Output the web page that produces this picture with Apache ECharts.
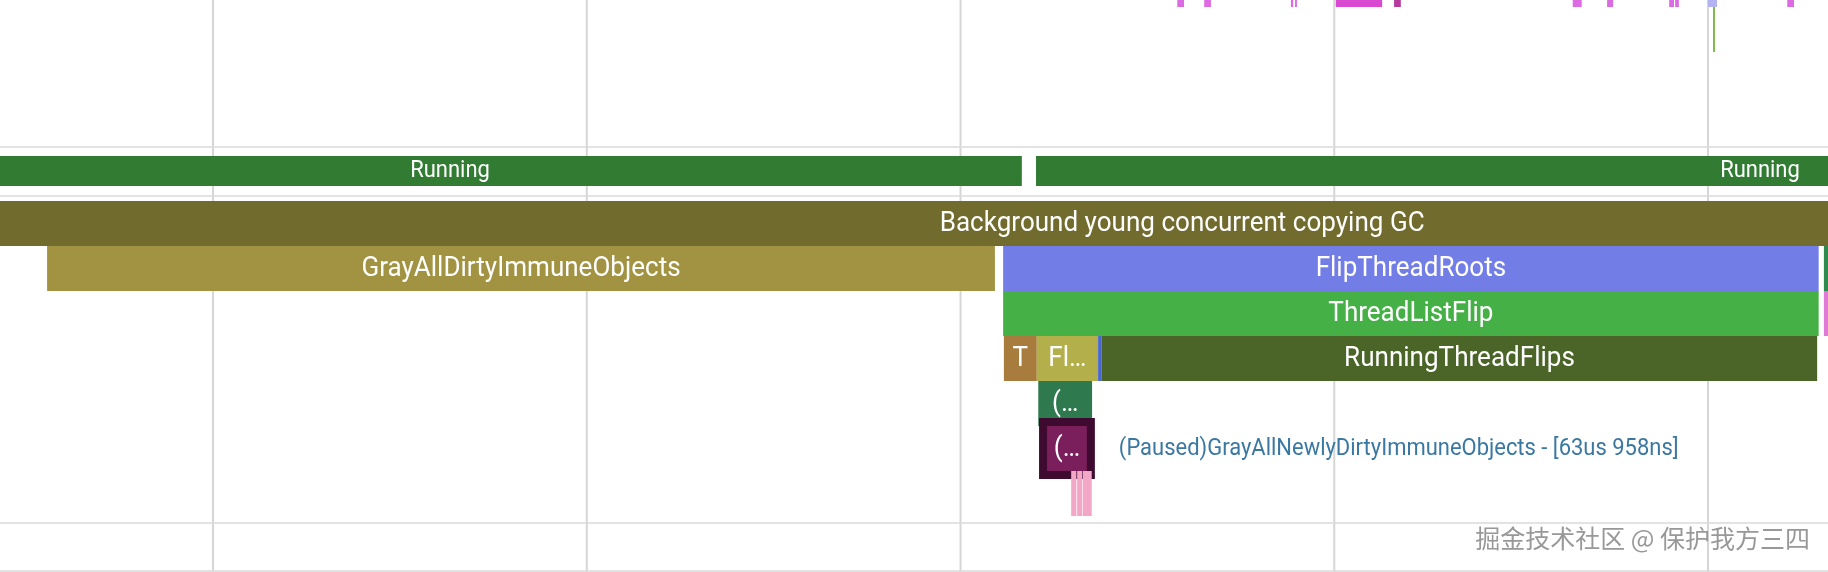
<!DOCTYPE html>
<html>
<head>
<meta charset="utf-8">
<script src="https://cdn.jsdelivr.net/npm/echarts@6/dist/echarts.min.js"></script>
<style>
html,body{margin:0;padding:0;background:#ffffff;}
#chart{width:1828px;height:572px;}
</style>
</head>
<body>
<div id="chart"></div>
<script>
// ---------- DATA (time in microseconds) ----------
const axisMin = 215;
const axisMax = 2660.5;
// time grid ticks (every 500 us)
const gridTicks = [500, 1000, 1500, 2000, 2500];

// partially visible track at the top (tiny slices)
const topStart = [1790, 1826, 1942, 1947.5, 2002, 2080, 2319, 2365, 2448, 2456, 2500, 2606];
const topEnd   = [1799, 1835, 1945, 1950,   2064, 2089, 2331, 2373, 2454.5, 2461, 2512, 2615];
// instant marker in the top track
const markerTime = [2508];

// thread state track
const stateNames = ['Running', 'Running'];
const stateStart = [52, 1601];
const stateEnd   = [1582, 3538];

// slice track
const sliceNames  = [
  'Background young concurrent copying GC',
  'GrayAllDirtyImmuneObjects',
  'FlipThreadRoots',
  '',
  'ThreadListFlip',
  '',
  'T',
  'Fl…',
  '',
  'RunningThreadFlips',
  '(…',
  '(Paused)GrayAllNewlyDirtyImmuneObjects',
  '', '', ''
];
const sliceLabels = [
  'Background young concurrent copying GC',
  'GrayAllDirtyImmuneObjects',
  'FlipThreadRoots',
  '',
  'ThreadListFlip',
  '',
  'T',
  'Fl…',
  '',
  'RunningThreadFlips',
  '(…',
  '(…',
  '', '', ''
];
const sliceStart = [-180, 278, 1557, 2655, 1557, 2655, 1558, 1602, 1684, 1689, 1604, 1610.4,   1648, 1656,   1663.3];
const sliceEnd   = [3773, 1546, 2648, 2720, 2648, 2720, 1602, 1684, 1689, 2646, 1676, 1674.358, 1655, 1662.5, 1675.5];
const sliceDepth = [0,    1,    1,    1,    2,    2,    3,    3,    3,    3,    4,    5,        6,    6,      6];
const selectedSlice = 11;

// ---------- STYLES / LAYOUT ----------
const topColors = ['#dc6ae2','#dc6ae2','#dc6ae2','#dc6ae2','#d848d0','#b5399f','#dc6ae2','#dc6ae2','#dc6ae2','#dc6ae2','#b3b3f2','#dc6ae2'];
const sliceColors = ['#726b2e','#a19342','#737de6','#2f8a4e','#45b046','#e07ad6','#a87c3c','#b3af4b','#4a67d0','#4b6528','#2e7a4e','#7a1f5c','#f2a7c6','#f2a7c6','#f2a7c6'];
const stateColor = '#327b33';
const layout = {
  topTrackTop: 0, topTrackH: 7, markerTop: 7, markerBottom: 52,
  stateTop: 156, stateH: 30,
  sliceTop: 201, rowH: 45,
  separators: [147, 196, 523, 571]
};
// condensed look: larger font squeezed horizontally
const sliceFont = '28px Roboto', sliceSqueeze = 0.93;
const stateFont = '24px Roboto', stateSqueeze = 0.915;
const infoFont = '24px Roboto', infoSqueeze = 0.915;

function fmtDur(us) {
  const whole = Math.floor(us);
  const ns = Math.round((us - whole) * 1000);
  return whole + 'us ' + ns + 'ns';
}

function label(text, x, y, font, squeeze, fill, align) {
  return {type: 'text', x: x, y: y, scaleX: squeeze, scaleY: 1,
    style: {text: text, x: 0, y: 0, align: align || 'center', verticalAlign: 'middle', font: font, fill: fill}};
}

const chart = echarts.init(document.getElementById('chart'), null, {renderer: 'canvas'});

const option = {
  animation: false,
  backgroundColor: '#ffffff',
  grid: {left: 0, top: 0, right: 0, bottom: 0},
  xAxis: {
    type: 'value', min: axisMin, max: axisMax,
    axisLine: {show: false}, axisTick: {show: false}, axisLabel: {show: false},
    splitLine: {show: false}
  },
  yAxis: {
    type: 'value', min: 0, max: 572, inverse: true, show: false,
    splitLine: {show: false}
  },
  graphic: [{
    type: 'text', right: 18, top: 526, z: 100,
    style: {
      text: '掘金技术社区 @ 保护我方三四',
      font: '25px "Noto Sans CJK SC"',
      fill: '#989898',
      shadowColor: 'rgba(0,0,0,0.3)', shadowOffsetX: 1, shadowOffsetY: 1, shadowBlur: 1
    }
  }],
  series: [
    // time gridlines
    {
      type: 'custom', z: 1, silent: true,
      data: gridTicks.map(function (t) { return [t]; }),
      encode: {x: 0},
      renderItem: function (params, api) {
        const x = api.coord([api.value(0), 0])[0];
        const cs = params.coordSys;
        return {type: 'line', shape: {x1: x, y1: cs.y, x2: x, y2: cs.y + cs.height},
                style: {stroke: '#d6d6d6', lineWidth: 2}};
      }
    },
    // track separators
    {
      type: 'custom', z: 1, silent: true,
      data: layout.separators.map(function (y) { return [axisMin, y]; }),
      renderItem: function (params, api) {
        const y = api.coord([axisMin, api.value(1)])[1];
        const cs = params.coordSys;
        return {type: 'line', shape: {x1: cs.x, y1: y, x2: cs.x + cs.width, y2: y},
                style: {stroke: '#dadada', lineWidth: 1.5}};
      }
    },
    // top track slices
    {
      type: 'custom', z: 2, silent: true,
      data: topStart.map(function (s, i) { return [s, topEnd[i], i]; }),
      encode: {x: [0, 1]},
      renderItem: function (params, api) {
        const a = api.coord([api.value(0), layout.topTrackTop]);
        const b = api.coord([api.value(1), layout.topTrackTop + layout.topTrackH]);
        return {type: 'rect', shape: {x: a[0], y: a[1], width: b[0] - a[0], height: b[1] - a[1]},
                style: {fill: topColors[api.value(2)]}};
      }
    },
    // instant marker
    {
      type: 'custom', z: 2, silent: true,
      data: markerTime.map(function (t) { return [t]; }),
      encode: {x: 0},
      renderItem: function (params, api) {
        const a = api.coord([api.value(0), layout.markerTop]);
        const b = api.coord([api.value(0), layout.markerBottom]);
        return {type: 'line', shape: {x1: a[0], y1: a[1], x2: b[0], y2: b[1]},
                style: {stroke: '#7dbb4a', lineWidth: 2}};
      }
    },
    // thread state
    {
      type: 'custom', z: 3, silent: true,
      data: stateStart.map(function (s, i) { return [s, stateEnd[i], i]; }),
      encode: {x: [0, 1]},
      renderItem: function (params, api) {
        const i = api.value(2);
        const a = api.coord([api.value(0), layout.stateTop]);
        const b = api.coord([api.value(1), layout.stateTop + layout.stateH]);
        return {type: 'group', children: [
          {type: 'rect', shape: {x: a[0], y: a[1], width: b[0] - a[0], height: b[1] - a[1]},
           style: {fill: stateColor}},
          label(stateNames[i], (a[0] + b[0]) / 2, (a[1] + b[1]) / 2, stateFont, stateSqueeze, '#ffffff')
        ]};
      }
    },
    // slices
    {
      type: 'custom', z: 4, silent: true,
      data: sliceStart.map(function (s, i) { return [s, sliceEnd[i], sliceDepth[i], i]; }),
      encode: {x: [0, 1]},
      renderItem: function (params, api) {
        const i = api.value(3);
        const d = api.value(2);
        const top = layout.sliceTop + d * layout.rowH;
        const a = api.coord([api.value(0), top]);
        const b = api.coord([api.value(1), top + layout.rowH]);
        const cx = (a[0] + b[0]) / 2, cy = (a[1] + b[1]) / 2;
        const children = [];
        if (i === selectedSlice) {
          children.push({type: 'rect',
            shape: {x: a[0], y: a[1] - 4, width: b[0] - a[0], height: b[1] - a[1] + 8},
            style: {fill: sliceColors[i], stroke: '#3f0a30', lineWidth: 8}});
          children.push(label(
            sliceNames[i] + ' - [' + fmtDur(api.value(1) - api.value(0)) + ']',
            b[0] + 28, cy, infoFont, infoSqueeze, '#3a78a2', 'left'));
        } else {
          children.push({type: 'rect', shape: {x: a[0], y: a[1], width: b[0] - a[0], height: b[1] - a[1]},
            style: {fill: sliceColors[i]}});
        }
        if (sliceLabels[i]) {
          children.push(label(sliceLabels[i], cx, cy, sliceFont, sliceSqueeze, '#ffffff'));
        }
        return {type: 'group', children: children};
      }
    }
  ]
};
chart.setOption(option);
</script>
</body>
</html>
